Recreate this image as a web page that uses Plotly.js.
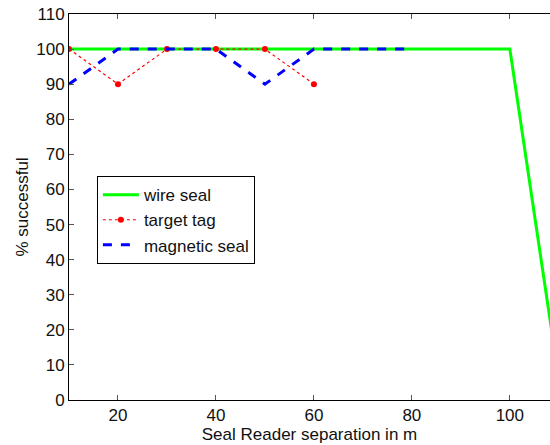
<!DOCTYPE html>
<html><head><meta charset="utf-8">
<script src="https://cdn.plot.ly/plotly-3.0.1.min.js"></script>
<style>html,body{margin:0;padding:0;background:#fff}#c{width:550px;height:445px}</style>
</head><body><div id="c"></div>
<script>
const wireX = [10,20,30,40,50,60,70,80,90,100,110];
const wireY = [100,100,100,100,100,100,100,100,100,100,6];
const tagX = [10,20,30,40,50,60];
const tagY = [100,90,100,100,100,90];
const magX = [10,20,30,40,50,60,70,80];
const magY = [90,100,100,100,90,100,100,100];
const xTicks = [20,40,60,80,100];
const yTicks = [0,10,20,30,40,50,60,70,80,90,100,110];

const traces = [
  {x: wireX, y: wireY, name: 'wire seal', mode: 'lines', line: {color: '#00ff00', width: 3}},
  {x: tagX, y: tagY, name: 'target tag', mode: 'lines+markers', line: {color: '#ff0000', width: 1.2, dash: 'dot'}, marker: {color: '#ff0000', size: 6}},
  {x: magX, y: magY, name: 'magnetic seal', mode: 'lines', line: {color: '#0000ff', width: 3, dash: 'dash'}}
];
const font = {family: 'Liberation Sans, Arial, sans-serif', size: 17, color: '#111'};
const layout = {
  width: 550, height: 445,
  margin: {l: 69, r: 0, t: 14, b: 45},
  paper_bgcolor: '#fff', plot_bgcolor: '#fff',
  font: font,
  showlegend: true,
  legend: {x: 0.058, y: 0.58, xanchor: 'left', yanchor: 'top', bordercolor: '#000', borderwidth: 1, bgcolor: '#fff', font: font, itemwidth: 36, tracegroupgap: 0},
  xaxis: {range: [10, 108.2], tickvals: xTicks, ticktext: xTicks.map(String), ticks: 'inside', ticklen: 5, tickcolor: '#555', showline: true, linecolor: '#000', linewidth: 1, mirror: 'ticks', showgrid: false, zeroline: false,
    title: {text: 'Seal Reader separation in m', font: font, standoff: 0}},
  yaxis: {range: [0, 110], tickvals: yTicks, ticks: 'inside', ticklen: 5, tickcolor: '#555', showline: true, linecolor: '#000', linewidth: 1, mirror: false, showgrid: false, zeroline: false,
    title: {text: '% successful', font: font, standoff: 3}}
};
Plotly.newPlot('c', traces, layout, {displayModeBar: false});
</script></body></html>
